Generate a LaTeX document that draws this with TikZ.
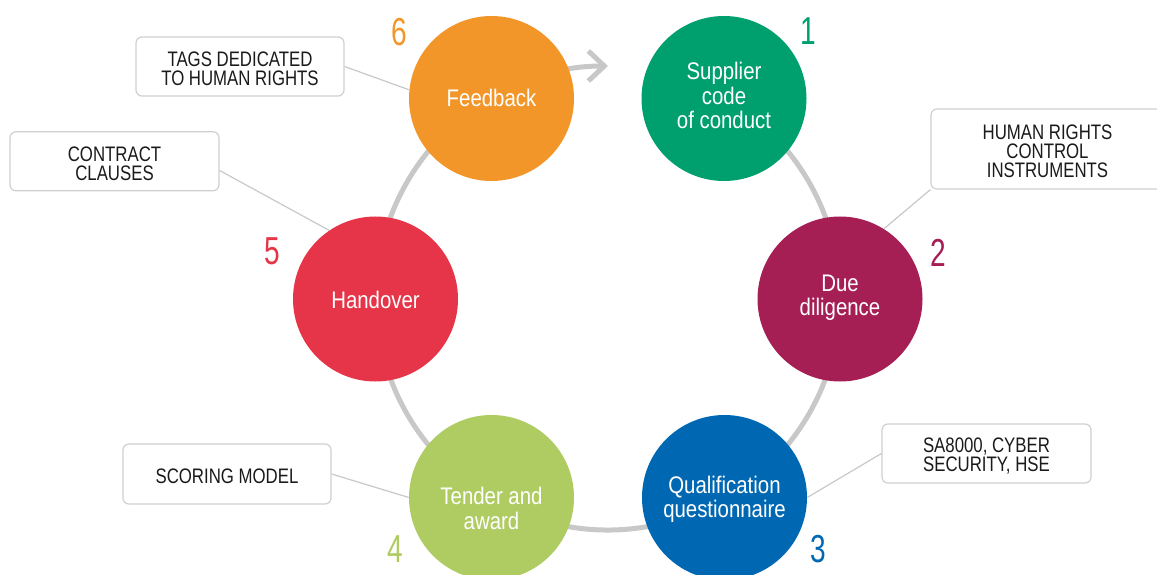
\documentclass[tikz,border=0pt]{standalone}
\usepackage{fontspec}
\setmainfont{Liberation Sans}
\newfontfamily\circfont[FakeStretch=0.85]{Liberation Sans}
\newfontfamily\boxfont[FakeStretch=0.80]{Liberation Sans}
\newfontfamily\numfont[FakeStretch=0.72]{Liberation Sans}
\usetikzlibrary{arrows.meta,calc}
\definecolor{cOrange}{HTML}{F39629}
\definecolor{cGreen}{HTML}{00A06E}
\definecolor{cCrimson}{HTML}{A51F55}
\definecolor{cBlue}{HTML}{0068B2}
\definecolor{cLime}{HTML}{AFCC62}
\definecolor{cRed}{HTML}{E63548}
\definecolor{ringgray}{HTML}{C8C8C8}
\definecolor{boxgray}{HTML}{D0D0D0}
\definecolor{linegray}{HTML}{C8C8C8}
\definecolor{textdark}{HTML}{1A1A1A}
\begin{document}
\begin{tikzpicture}[x=1pt,y=1pt,
  stage/.style={circle, fill=#1, minimum size=165pt, inner sep=0pt},
  stagetext/.style={text=white, align=center, inner sep=0pt,
    font=\circfont\fontsize{24}{24.5}\selectfont},
  notebox/.style={draw=boxgray, line width=1.2pt, rounded corners=6pt, inner sep=0pt},
  notetext/.style={text=textdark, align=center, inner sep=0pt,
    font=\boxfont\fontsize{21}{19}\selectfont},
  num/.style={text=#1, inner sep=0pt, font=\numfont\fontsize{39}{39}\selectfont},
  link/.style={draw=linegray, line width=1.2pt},
  ring/.style={draw=ringgray, line width=5pt}]
\useasboundingbox (0,0) rectangle (1157,574);
\coordinate (ringc) at (608,276);
% ring with arrow
\draw[ring, -{Straight Barb[length=16pt,width=30pt]}] ($(ringc)+(60:232)$) arc[start angle=60, end angle=-270, radius=232];
% stages
\node[stage=cGreen]   (c1) at (724,475.5) {};
\node[stage=cCrimson] (c2) at (840,275) {};
\node[stage=cBlue]    (c3) at (724.5,76.5) {};
\node[stage=cLime]    (c4) at (491.5,76.5) {};
\node[stage=cRed]     (c5) at (375.5,275) {};
\node[stage=cOrange]  (c6) at (491.5,475.5) {};
\node[stagetext] (t1) at ($(c1)+(0,3)$) {Supplier\\code\\of conduct};
\node[stagetext] (t2) at ($(c2)+(0,1.5)$) {Due\\diligence};
\node[stagetext] (t3) at ($(c3)+(0,-2)$) {Qualification\\questionnaire};
\node[stagetext] (t4) at ($(c4)+(0,-11)$) {Tender and\\award};
\node[stagetext] (t5) at ($(c5)+(0,-1)$) {Handover};
\node[stagetext] (t6) at ($(c6)+(0,1)$) {Feedback};
% numbers
\node[num=cGreen]   (n1) at (808,543) {1};
\node[num=cCrimson] (n2) at (938,321.5) {2};
\node[num=cBlue]    (n3) at (818.5,25) {3};
\node[num=cLime]    (n4) at (395.5,25) {4};
\node[num=cRed]     (n5) at (272,322.5) {5};
\node[num=cOrange]  (n6) at (399,542) {6};
% notes
\node[notebox, minimum width=208pt, minimum height=59pt] (tags) at (240,507.5) {};
\node[notebox, minimum width=209pt, minimum height=59pt] (contract) at (114.5,412.7) {};
\node[notebox, minimum width=233pt, minimum height=80pt] (hr) at (1047.5,425) {};
\node[notebox, minimum width=209pt, minimum height=59pt] (sa) at (986.5,120.5) {};
\node[notebox, minimum width=208pt, minimum height=60pt] (scoring) at (227,100) {};
\node[notetext] (tagsT) at ($(tags)+(0,-2.5)$) {TAGS DEDICATED\\TO HUMAN RIGHTS};
\node[notetext] (contractT) at ($(contract)+(0,-2.5)$) {CONTRACT\\CLAUSES};
\node[notetext] (hrT) at ($(hr)+(0,-2.5)$) {HUMAN RIGHTS\\CONTROL\\INSTRUMENTS};
\node[notetext] (saT) at ($(sa)+(0,-3)$) {SA8000, CYBER\\SECURITY, HSE};
\node[notetext] (scoringT) at ($(scoring)+(0,-2)$) {SCORING MODEL};
% connectors
\draw[link] (tags.east) -- (c6.174);
\draw[link] (contract.-5) -- (c5.124);
\draw[link] (hr.south west) -- (c2.58);
\draw[link] (sa.west) -- (c3.east);
\draw[link] (scoring.east) -- (c4.west);
\end{tikzpicture}
\end{document}
